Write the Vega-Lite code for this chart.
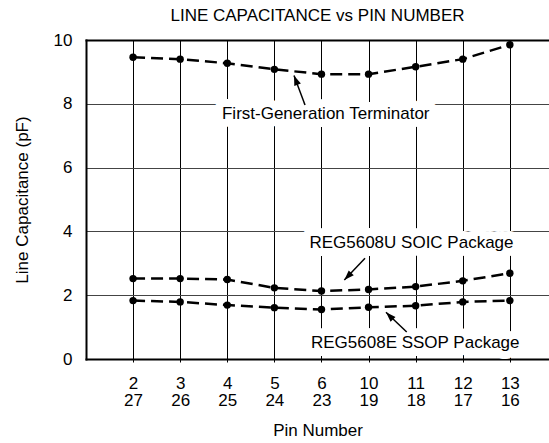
{
  "$schema": "https://vega.github.io/schema/vega-lite/v6.json",
  "width": 463,
  "height": 319,
  "autosize": "none",
  "padding": {"left": 86, "top": 40, "right": 0, "bottom": 84},
  "background": "white",
  "title": {"text": "LINE CAPACITANCE vs PIN NUMBER", "font": "Liberation Sans", "fontSize": 17, "fontWeight": "normal", "color": "black", "anchor": "middle", "baseline": "alphabetic", "offset": -7},
  "config": {"view": {"stroke": null}, "font": "Liberation Sans"},
  "datasets": {
    "series": [
      {"series": "First-Generation", "pin": "2|27", "capacitance": 9.46},
      {"series": "First-Generation", "pin": "3|26", "capacitance": 9.40},
      {"series": "First-Generation", "pin": "4|25", "capacitance": 9.27},
      {"series": "First-Generation", "pin": "5|24", "capacitance": 9.08},
      {"series": "First-Generation", "pin": "6|23", "capacitance": 8.93},
      {"series": "First-Generation", "pin": "10|19", "capacitance": 8.93},
      {"series": "First-Generation", "pin": "11|18", "capacitance": 9.16},
      {"series": "First-Generation", "pin": "12|17", "capacitance": 9.40},
      {"series": "First-Generation", "pin": "13|16", "capacitance": 9.85},
      {"series": "SOIC", "pin": "2|27", "capacitance": 2.52},
      {"series": "SOIC", "pin": "3|26", "capacitance": 2.52},
      {"series": "SOIC", "pin": "4|25", "capacitance": 2.49},
      {"series": "SOIC", "pin": "5|24", "capacitance": 2.23},
      {"series": "SOIC", "pin": "6|23", "capacitance": 2.13},
      {"series": "SOIC", "pin": "10|19", "capacitance": 2.18},
      {"series": "SOIC", "pin": "11|18", "capacitance": 2.27},
      {"series": "SOIC", "pin": "12|17", "capacitance": 2.45},
      {"series": "SOIC", "pin": "13|16", "capacitance": 2.69},
      {"series": "SSOP", "pin": "2|27", "capacitance": 1.83},
      {"series": "SSOP", "pin": "3|26", "capacitance": 1.79},
      {"series": "SSOP", "pin": "4|25", "capacitance": 1.69},
      {"series": "SSOP", "pin": "5|24", "capacitance": 1.61},
      {"series": "SSOP", "pin": "6|23", "capacitance": 1.55},
      {"series": "SSOP", "pin": "10|19", "capacitance": 1.62},
      {"series": "SSOP", "pin": "11|18", "capacitance": 1.67},
      {"series": "SSOP", "pin": "12|17", "capacitance": 1.79},
      {"series": "SSOP", "pin": "13|16", "capacitance": 1.83}
    ],
    "notes": [
      {"text": "First-Generation Terminator", "ax": 5.09, "ay": 7.51},
      {"text": "REG5608U SOIC Package", "ax": 6.91, "ay": 3.49},
      {"text": "REG5608E SSOP Package", "ax": 6.99, "ay": 0.335}
    ],
    "arrows": [
      {"id": 1, "ax": 4.65, "ay": 7.96, "tipx": 4.416, "tipy": 8.887},
      {"id": 2, "ax": 5.924, "ay": 3.157, "tipx": 5.484, "tipy": 2.476},
      {"id": 3, "ax": 6.809, "ay": 0.846, "tipx": 6.369, "tipy": 1.464}
    ]
  },
  "layer": [
    {
      "data": {"name": "series"},
      "encoding": {
        "x": {
          "field": "pin", "type": "ordinal", "sort": null,
          "scale": {"type": "point", "padding": 0.915, "align": 0.546},
          "axis": {
            "title": "Pin Number", "titleFont": "Liberation Sans", "titleFontSize": 17, "titleFontWeight": "normal", "titleColor": "black", "titlePadding": 14,
            "labelFont": "Liberation Sans", "labelFontSize": 17, "labelColor": "black", "labelAngle": 0,
            "labelExpr": "split(datum.label, '|')", "labelLineHeight": 17, "labelPadding": 13,
            "tickSize": 3, "tickColor": "black", "tickWidth": 1,
            "domainColor": "black", "domainWidth": 2, "domainCap": "square",
            "grid": true, "gridColor": "black", "gridWidth": 1, "gridOpacity": 1
          }
        },
        "y": {
          "field": "capacitance", "type": "quantitative",
          "scale": {"domain": [0, 10], "nice": false},
          "axis": {
            "title": "Line Capacitance (pF)", "titleFont": "Liberation Sans", "titleFontSize": 17, "titleFontWeight": "normal", "titleColor": "black", "titlePadding": 22,
            "values": [0, 1, 2, 3, 4, 5, 6, 7, 8, 9, 10],
            "labelExpr": "datum.value % 2 === 0 ? datum.label : ''",
            "labelFont": "Liberation Sans", "labelFontSize": 17, "labelColor": "black", "labelPadding": 14,
            "ticks": false, "tickSize": 0,
            "domainColor": "black", "domainWidth": 2, "domainCap": "square",
            "grid": true, "gridColor": "#444444", "gridWidth": 1, "gridOpacity": 1
          }
        }
      },
      "layer": [
        {
          "mark": {"type": "line", "color": "black", "strokeWidth": 2.5, "strokeDash": [12, 6]},
          "encoding": {"detail": {"field": "series"}, "order": {"value": null}}
        },
        {
          "mark": {"type": "point", "filled": true, "color": "black", "size": 55, "opacity": 1}
        }
      ]
    },
    {
      "layer": [
        {
          "data": {"name": "notes"},
          "mark": {"type": "text", "font": "Liberation Sans", "fontSize": 17, "baseline": "alphabetic", "align": "center", "fill": "white", "stroke": "white", "strokeWidth": 16, "strokeJoin": "round"},
          "encoding": {
            "x": {"field": "ax", "type": "quantitative", "scale": {"domain": [0, 9.83], "nice": false, "zero": false},
              "axis": {"orient": "top", "labels": false, "ticks": false, "grid": false, "title": null, "domainColor": "black", "domainWidth": 2, "domainCap": "square"}},
            "y": {"field": "ay", "type": "quantitative"},
            "text": {"field": "text"}
          }
        },
        {
          "data": {"name": "notes"},
          "mark": {"type": "text", "font": "Liberation Sans", "fontSize": 17, "baseline": "alphabetic", "align": "center", "color": "black"},
          "encoding": {
            "x": {"field": "ax", "type": "quantitative"},
            "y": {"field": "ay", "type": "quantitative"},
            "text": {"field": "text"}
          }
        },
        {
          "data": {"name": "arrows"},
          "mark": {"type": "rule", "color": "black", "strokeWidth": 1.5},
          "encoding": {
            "x": {"field": "ax", "type": "quantitative"},
            "y": {"field": "ay", "type": "quantitative"},
            "x2": {"field": "tipx"},
            "y2": {"field": "tipy"}
          }
        },
        {
          "data": {"name": "arrows"},
          "transform": [{"filter": "datum.id === 1"}],
          "mark": {"type": "point", "shape": "M0,0L-0.35,1L0.35,1Z", "filled": true, "color": "black", "opacity": 1, "size": 400, "angle": 339},
          "encoding": {
            "x": {"field": "tipx", "type": "quantitative"},
            "y": {"field": "tipy", "type": "quantitative"}
          }
        },
        {
          "data": {"name": "arrows"},
          "transform": [{"filter": "datum.id === 2"}],
          "mark": {"type": "point", "shape": "M0,0L-0.35,1L0.35,1Z", "filled": true, "color": "black", "opacity": 1, "size": 400, "angle": 224},
          "encoding": {
            "x": {"field": "tipx", "type": "quantitative"},
            "y": {"field": "tipy", "type": "quantitative"}
          }
        },
        {
          "data": {"name": "arrows"},
          "transform": [{"filter": "datum.id === 3"}],
          "mark": {"type": "point", "shape": "M0,0L-0.35,1L0.35,1Z", "filled": true, "color": "black", "opacity": 1, "size": 400, "angle": 315},
          "encoding": {
            "x": {"field": "tipx", "type": "quantitative"},
            "y": {"field": "tipy", "type": "quantitative"}
          }
        }
      ]
    }
  ],
  "resolve": {"scale": {"x": "independent"}}
}
